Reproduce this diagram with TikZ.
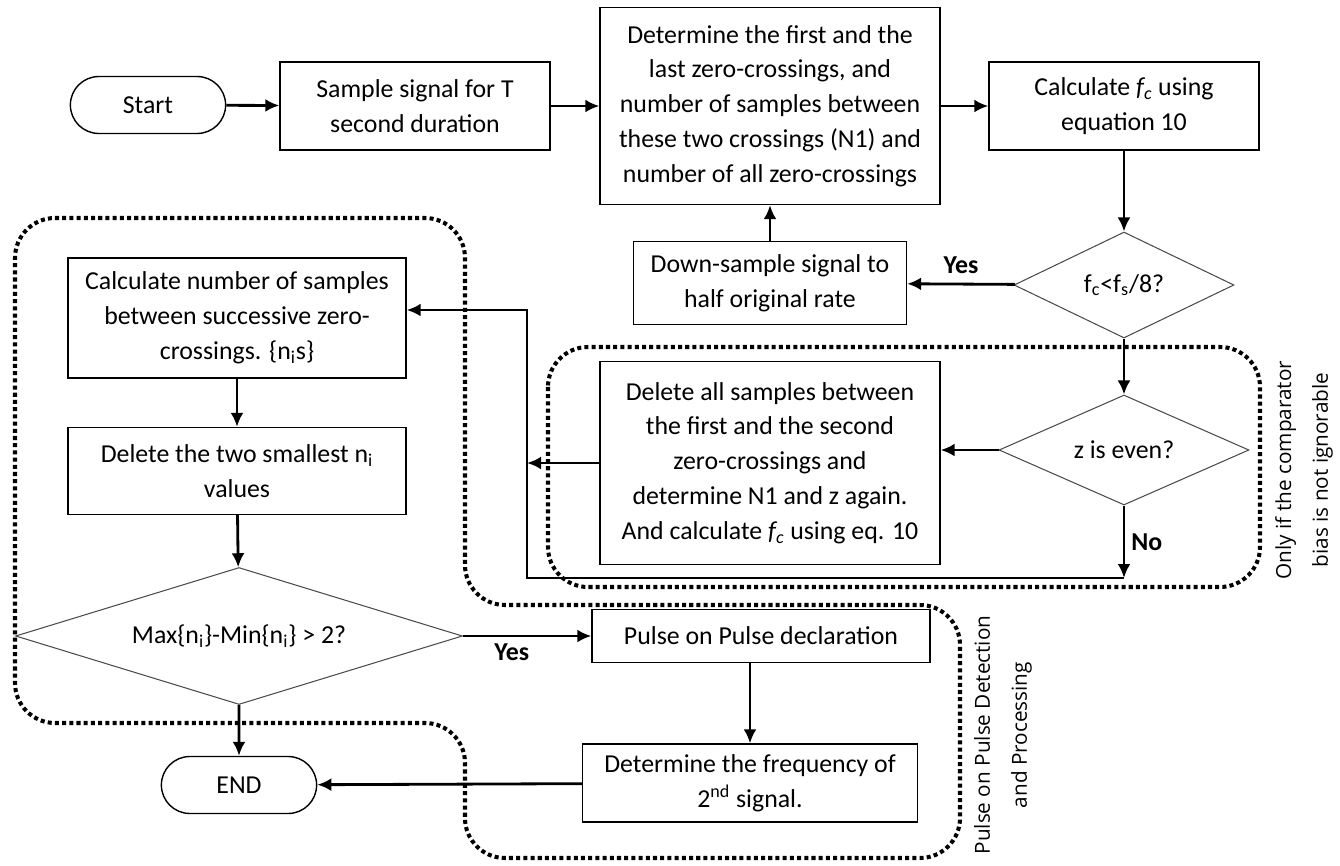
\documentclass[tikz,border=0pt]{standalone}
\usepackage{fontspec}
\setmainfont{Carlito}
\newfontfamily\sidefont{Open Sans}
\usetikzlibrary{shapes.geometric,shapes.misc,arrows.meta}

\begin{document}
\begin{tikzpicture}[x=0.02cm,y=-0.02cm,line width=1.6pt,
    font=\fontsize{14.7}{19.8}\selectfont,
    >={Latex[length=2.8mm,width=2.6mm]},
    box/.style={draw,line width=0.8pt,align=center,inner sep=2pt},
    term/.style={draw,rounded rectangle,line width=0.8pt,minimum width=3.34cm,minimum height=1.14cm},
    decision/.style={draw=black!70,diamond,line width=0.6pt,inner sep=0pt,align=center},
    dotbox/.style={line width=2.3pt,dash pattern=on 2.3pt off 1.8pt,rounded corners=0.8cm},
    side/.style={rotate=90,align=center,font=\sidefont\fontsize{11.8}{21}\selectfont}]
    \useasboundingbox (0,0) rectangle (1340,866);

    % top row
    \node[term] (start) at (148,105) {Start};
    \node[box,minimum width=5.4cm,minimum height=1.76cm] (sample) at (415,106) {Sample signal for T\\second duration};
    \node[box,minimum width=6.8cm,minimum height=3.94cm] (first) at (770,106) {Determine the first and the\\last zero-crossings, and\\number of samples between\\these two crossings (N1) and\\number of all zero-crossings};
    \node[box,minimum width=5.4cm,minimum height=1.76cm] (calcfc) at (1124,106) {Calculate \textit{f\textsubscript{c}} using\\equation 10};

    % right column
    \node[decision,aspect=2.1,minimum width=4.4cm,minimum height=2.12cm] (ratio) at (1124,285) {f\textsubscript{c}<f\textsubscript{s}/8?};
    \node[box,minimum width=5.46cm,minimum height=1.66cm] (down) at (770,283) {Down-sample signal to\\half original rate};
    \node[decision,aspect=2.3,minimum width=5.0cm,minimum height=2.2cm] (even) at (1124,450) {z is even?};
    \node[box,minimum width=6.8cm,minimum height=4.06cm] (delall) at (770,463) {Delete all samples between\\the first and the second\\zero-crossings and\\determine N1 and z again.\\And calculate \textit{f\textsubscript{c}} using eq. 10};

    % left column
    \node[box,minimum width=6.76cm,minimum height=2.4cm] (count) at (237,318) {Calculate number of samples\\between successive zero-\\crossings. \{n\textsubscript{i}s\}};
    \node[box,minimum width=6.76cm,minimum height=1.74cm] (smallest) at (237,471) {Delete the two smallest n\textsubscript{i}\\values};
    \node[decision,aspect=3.26,minimum width=8.94cm,minimum height=2.74cm] (spread) at (239,636) {Max\{n\textsubscript{i}\}-Min\{n\textsubscript{i}\} > 2?};
    \node[box,minimum width=6.76cm,minimum height=1.06cm] (pop) at (761,636) {Pulse on Pulse declaration};
    \node[box,minimum width=6.7cm,minimum height=1.56cm] (freq) at (750,783) {Determine the frequency of\\2\textsuperscript{nd} signal.};
    \node[term] (stop) at (239,785) {END};

    \coordinate (bend) at (527,578);
    \coordinate (rise) at (527,310);

    \draw[->] (start) -- (sample);
    \draw[->] (sample) -- (first);
    \draw[->] (first) -- (calcfc);
    \draw[->] (calcfc) -- (ratio);
    \draw[->] (ratio) -- node[above=2pt] {\textbf{Yes}} (down);
    \draw[->] (down) -- (first);
    \draw[->] (ratio) -- (even);
    \draw[->] (even.west) -- (even.west -| delall.east);
    \draw[->] (delall.west) -- (delall.west -| bend);
    \draw[->] (even) -- node[right] {\textbf{No}} (even |- bend);
    \draw[->] (even |- bend) -- (bend) -- (rise) -- (rise -| count.east);

    \draw[->] (count) -- (smallest);
    \draw[->] (smallest) -- (spread);
    \draw[->] (spread) -- (stop);
    \draw[->] (spread) -- node[below,pos=0.38] {\textbf{Yes}} (pop);
    \draw[->] (pop.south -| freq) -- (freq);
    \draw[->] (freq) -- (stop);

    % dotted groups
    \draw[dotbox] (15,218) -- (465,218) -- (465,605) -- (960,605) -- (960,858) -- (465,858) -- (465,723) -- (15,723) -- cycle;
    \draw[dotbox] (548,347) rectangle (1260,587);

    \node[side] (biasnote) at (1304,470) {Only if the comparator\\bias is not ignorable};
    \node[side] (popnote) at (1003,735) {Pulse on Pulse Detection\\and Processing};
\end{tikzpicture}
\end{document}
